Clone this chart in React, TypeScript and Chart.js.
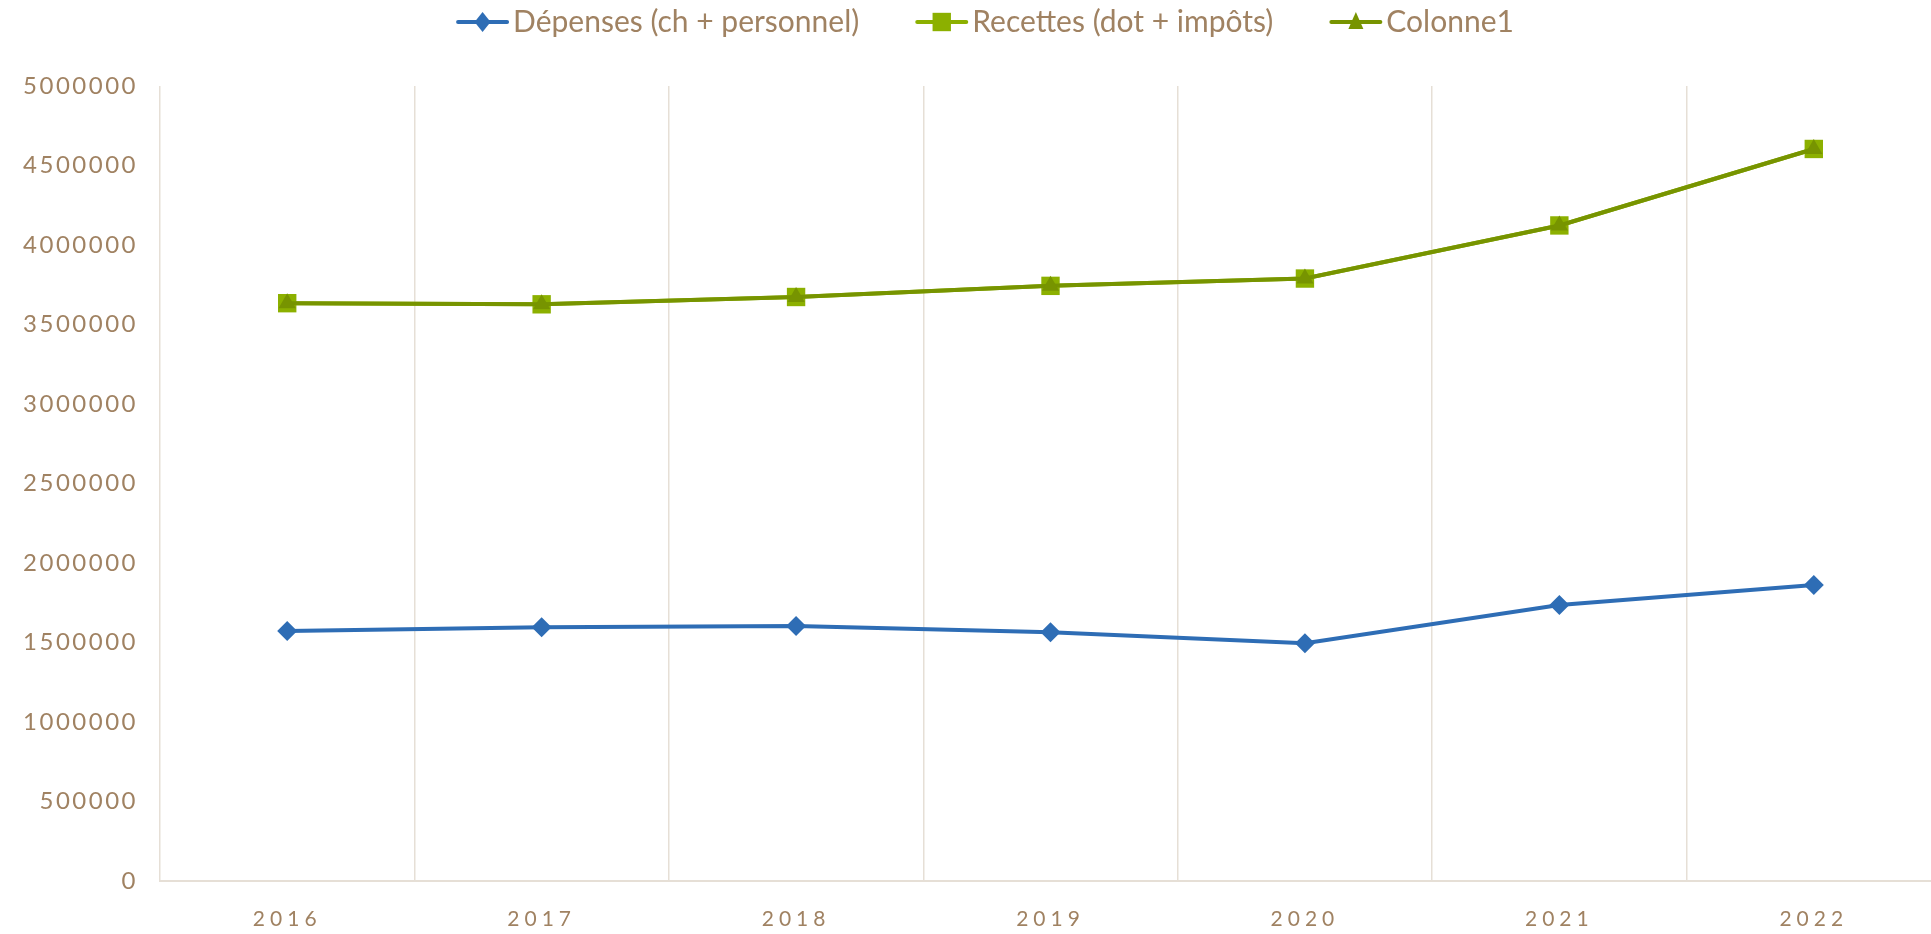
import React, { useEffect, useRef } from "react";
import { Chart, registerables } from "chart.js";

Chart.register(...registerables);

const years = ["2016", "2017", "2018", "2019", "2020", "2021", "2022"];
const depenses = [1573000, 1596000, 1604000, 1565000, 1496000, 1736000, 1862000];
const recettes = [3634000, 3627000, 3673000, 3743000, 3789000, 4123000, 4604000];
const colonne1 = [3634000, 3627000, 3673000, 3743000, 3789000, 4123000, 4604000];
const yMin = 0;
const yMax = 5000000;
const yStep = 500000;

const TEXT = "#A08262";
const GRID = "#E6DFD6";
const BLUE = "#2E6DB5";
const GREEN_L = "#8CB000";
const GREEN_D = "#779400";
const FONT = "Lato";

function drawMarker(ctx: CanvasRenderingContext2D, style: string, x: number, y: number, r: number, color: string) {
  ctx.save();
  ctx.fillStyle = color;
  ctx.beginPath();
  if (style === "rectRot") {
    ctx.moveTo(x, y - r);
    ctx.lineTo(x + r * 0.8, y);
    ctx.lineTo(x, y + r);
    ctx.lineTo(x - r * 0.8, y);
  } else if (style === "rect") {
    const s = r * Math.SQRT1_2;
    ctx.rect(x - s, y - s, 2 * s, 2 * s);
  } else {
    ctx.moveTo(x, y - r);
    ctx.lineTo(x + r * 0.75, y + r * 0.7);
    ctx.lineTo(x - r * 0.75, y + r * 0.7);
  }
  ctx.closePath();
  ctx.fill();
  ctx.restore();
}

const spacingPlugin = {
  id: "spacing",
  beforeDraw(chart: any) {
    (chart.ctx as any).letterSpacing = "2.5px";
  },
  afterDatasetsDraw(chart: any) {
    (chart.ctx as any).letterSpacing = "5px";
  },
};

const legendPlugin = {
  id: "customLegend",
  afterDraw(chart: any) {
    const ctx: CanvasRenderingContext2D = chart.ctx;
    ctx.save();
    (ctx as any).letterSpacing = "0px";
    ctx.font = `30px ${FONT}`;
    const lineW = 53;
    const gapText = 4;
    const gapItem = 56;
    const items = chart.data.datasets.map((ds: any) => ({ ds, w: ctx.measureText(ds.label).width }));
    const total =
      items.reduce((s: number, it: any) => s + lineW + gapText + it.w, 0) + gapItem * (items.length - 1);
    let x = 985 - total / 2;
    const y = 22;
    ctx.textBaseline = "middle";
    ctx.textAlign = "left";
    for (const it of items) {
      const ds = it.ds;
      ctx.strokeStyle = ds.borderColor;
      ctx.lineWidth = 4;
      ctx.lineCap = "round";
      ctx.beginPath();
      ctx.moveTo(x + 2, y);
      ctx.lineTo(x + lineW - 2, y);
      ctx.stroke();
      drawMarker(ctx, ds.pointStyle, x + lineW / 2, y, ds.pointStyle === "rect" ? 13 : 10, ds.pointBackgroundColor);
      ctx.fillStyle = TEXT;
      ctx.fillText(ds.label, x + lineW + gapText, y);
      x += lineW + gapText + it.w + gapItem;
    }
    ctx.restore();
  },
};

export default function App() {
  const ref = useRef<HTMLCanvasElement>(null);
  useEffect(() => {
    if (!ref.current) return;
    const chart = new Chart(ref.current, {
      type: "line",
      data: {
        labels: years,
        datasets: [
          {
            label: "Dépenses (ch + personnel)",
            data: depenses,
            borderColor: BLUE,
            backgroundColor: BLUE,
            pointBackgroundColor: BLUE,
            pointBorderColor: BLUE,
            pointStyle: "rectRot",
            pointRadius: 10,
            pointBorderWidth: 0,
            borderWidth: 4,
            order: 1,
          },
          {
            label: "Recettes (dot + impôts)",
            data: recettes,
            borderColor: GREEN_L,
            backgroundColor: GREEN_L,
            pointBackgroundColor: GREEN_L,
            pointBorderColor: GREEN_L,
            pointStyle: "rect",
            pointRadius: 13,
            pointBorderWidth: 0,
            borderWidth: 4,
            order: 2,
          },
          {
            label: "Colonne1",
            data: colonne1,
            borderColor: GREEN_D,
            backgroundColor: GREEN_D,
            pointBackgroundColor: GREEN_D,
            pointBorderColor: GREEN_D,
            pointStyle: "triangle",
            pointRadius: 10,
            pointBorderWidth: 0,
            borderWidth: 4,
            order: 0,
          },
        ],
      } as any,
      options: {
        animation: false,
        responsive: false,
        events: [],
        layout: { padding: { top: 86, right: 19, left: 0, bottom: 0 } },
        plugins: { legend: { display: false }, tooltip: { enabled: false } },
        scales: {
          x: {
            offset: true,
            grid: { display: true, offset: true, color: GRID, lineWidth: 1.5, drawTicks: false },
            border: { display: true, color: GRID, width: 2 },
            ticks: { color: TEXT, font: { family: FONT, size: 21 }, padding: 26, z: 1 } as any,
            afterFit: (s: any) => {
              s.height = 53;
            },
          },
          y: {
            min: yMin,
            max: yMax,
            grid: { display: false, drawTicks: false },
            border: { display: false },
            ticks: {
              stepSize: yStep,
              color: TEXT,
              font: { family: FONT, size: 24 },
              padding: 22,
              callback: (v: any) => String(v),
            },
            afterFit: (s: any) => {
              s.width = 160;
            },
          },
        },
      },
      plugins: [spacingPlugin, legendPlugin],
    } as any);
    return () => chart.destroy();
  }, []);
  return (
    <div style={{ position: "absolute", left: 0, top: 0, width: 1931, height: 934, overflow: "hidden", background: "#fff" }}>
      <canvas ref={ref} width={1960} height={934} style={{ display: "block" }} />
    </div>
  );
}
